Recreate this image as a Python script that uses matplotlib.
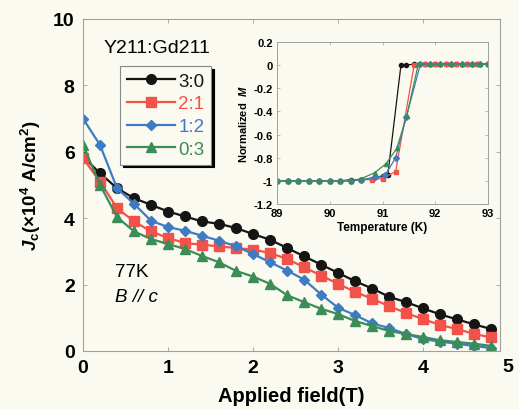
import numpy as np
import matplotlib
matplotlib.use("Agg")
import matplotlib.pyplot as plt

plt.rcParams['font.family'] = ['Liberation Sans', 'DejaVu Sans']
plt.rcParams['mathtext.fontset'] = 'custom'
plt.rcParams['mathtext.rm'] = 'Liberation Sans:bold'
plt.rcParams['mathtext.it'] = 'Liberation Sans:bold:italic'
plt.rcParams['mathtext.bf'] = 'Liberation Sans:bold'

# applied field (T)
field = [0.0, 0.2, 0.4, 0.6, 0.8, 1.0, 1.2, 1.4, 1.6, 1.8, 2.0, 2.2, 2.4,
         2.6, 2.8, 3.0, 3.2, 3.4, 3.6, 3.8, 4.0, 4.2, 4.4, 4.6, 4.8]

# Jc (x10^4 A/cm2)
jc_30 = [5.85, 5.35, 4.9, 4.6, 4.4, 4.2, 4.05, 3.9, 3.83, 3.7, 3.52, 3.35, 3.1,
         2.85, 2.6, 2.35, 2.1, 1.88, 1.63, 1.47, 1.28, 1.1, 0.95, 0.8, 0.66]
jc_21 = [5.8, 5.1, 4.3, 3.9, 3.6, 3.4, 3.25, 3.2, 3.15, 3.1, 3.05, 2.95, 2.77,
         2.52, 2.27, 2.02, 1.78, 1.57, 1.35, 1.14, 0.96, 0.78, 0.66, 0.51, 0.41]
jc_12 = [7.0, 6.2, 4.9, 4.43, 3.92, 3.73, 3.62, 3.47, 3.32, 3.15, 2.92, 2.67, 2.42,
         2.15, 1.7, 1.3, 1.08, 0.83, 0.69, 0.51, 0.36, 0.28, 0.22, 0.15, 0.09]
jc_03 = [6.2, 5.0, 4.03, 3.6, 3.37, 3.22, 3.07, 2.86, 2.67, 2.41, 2.24, 2.02, 1.68,
         1.47, 1.27, 1.11, 0.9, 0.75, 0.6, 0.51, 0.42, 0.32, 0.27, 0.22, 0.15]

# inset: normalized M vs temperature (K)
T_30 = [89.0, 89.2, 89.4, 89.6, 89.8, 90.0, 90.2, 90.4, 90.6, 90.8, 91.0, 91.1,
        91.35, 91.45, 91.6, 91.8, 92.0, 92.2, 92.4, 92.6, 92.8, 93.0]
M_30 = [-1, -1, -1, -1, -1, -1, -1, -0.99, -0.99, -0.98, -0.96, -0.95,
        0.0, 0.0, 0.01, 0.01, 0.01, 0.01, 0.01, 0.01, 0.01, 0.01]
T_21 = [89.0, 89.2, 89.4, 89.6, 89.8, 90.0, 90.2, 90.4, 90.6, 90.8, 91.0, 91.25,
        91.6, 91.8, 92.0, 92.2, 92.4, 92.6, 92.8, 93.0]
M_21 = [-1, -1, -1, -1, -1, -1, -1, -1, -0.99, -0.99, -0.98, -0.92,
        0.0, 0.01, 0.01, 0.01, 0.01, 0.01, 0.01, 0.01]
T_12 = [89.0, 89.2, 89.4, 89.6, 89.8, 90.0, 90.2, 90.4, 90.6, 90.85, 91.05, 91.25,
        91.45, 91.72, 91.9, 92.1, 92.3, 92.5, 92.7, 92.85, 93.0]
M_12 = [-1, -1, -1, -1, -1, -1, -1, -1, -0.99, -0.97, -0.95, -0.8,
        -0.45, 0.01, 0.01, 0.01, 0.01, 0.01, 0.01, 0.01, 0.01]
T_03 = [89.0, 89.2, 89.4, 89.6, 89.8, 90.0, 90.2, 90.4, 90.6, 90.85, 91.07, 91.27,
        91.46, 91.68, 91.9, 92.1, 92.3, 92.5, 92.7, 92.85, 93.0]
M_03 = [-1, -1, -1, -1, -1, -1, -1, -1, -0.98, -0.93, -0.85, -0.72,
        -0.44, 0.01, 0.01, 0.01, 0.01, 0.01, 0.01, 0.01, 0.01]

labels = ['3:0', '2:1', '1:2', '0:3']
colors = ['#151515', '#f2524a', '#3d7cc2', '#3b8c57']
markers = ['o', 's', 'D', '^']
msizes = [7, 7, 5, 6.5]

bg = '#fafaf1'
spine_c = '#a0a0a0'

fig = plt.figure(figsize=(5.19, 4.10), dpi=100, facecolor=bg)
ax = fig.add_axes([0.16, 0.1415, 0.803, 0.81], facecolor=bg)

jcs = [jc_30, jc_21, jc_12, jc_03]
for jc, lab, c, m, ms in zip(jcs, labels, colors, markers, msizes):
    ax.plot(field, jc, color=c, marker=m, markersize=ms, lw=1.6, label=lab)

ax.set_xlim(0, 4.9)
ax.set_ylim(0, 10)
ax.set_xticks([0, 1, 2, 3, 4])
ax.set_yticks([0, 2, 4, 6, 8, 10])
ax.tick_params(direction='in', length=3, width=0.6, color=spine_c,
               top=True, right=True, labelsize=14, pad=6)
for t in ax.get_xticklabels() + ax.get_yticklabels():
    t.set_fontweight('bold')
# the "5" label sits just past the right edge of the frame
ax.text(5.0, -0.022, '5', transform=ax.get_xaxis_transform(), ha='center',
        va='top', fontsize=14, fontweight='bold')
for s in ax.spines.values():
    s.set_color(spine_c)
    s.set_linewidth(0.8)

ax.set_xlabel('Applied field(T)', fontsize=14.5, fontweight='bold', labelpad=7)
ax.set_ylabel(r'$J_{\mathrm{c}}$(×10$^4$ A/cm$^2$)', fontsize=13.5, fontweight='bold')
ax.yaxis.set_label_coords(-0.095, 0.5)

ax.text(0.05, 0.915, 'Y211:Gd211', transform=ax.transAxes, fontsize=14,
        va='center', ha='left')
ax.text(0.077, 0.24, '77K', transform=ax.transAxes, fontsize=13.5, va='center')
ax.text(0.077, 0.163, 'B // c', transform=ax.transAxes, fontsize=13.5,
        va='center', fontstyle='italic')

leg = ax.legend(loc='upper left', bbox_to_anchor=(0.089, 0.858), fontsize=13.5,
                handlelength=2.6, handletextpad=0.15, labelspacing=0.3,
                borderpad=0.35, borderaxespad=0, fancybox=False, framealpha=1,
                shadow={'color': 'black', 'alpha': 1})
leg.get_frame().set_edgecolor('#888888')
leg.get_frame().set_linewidth(0.8)
leg.get_frame().set_facecolor(bg)
for txt, c in zip(leg.get_texts(), colors):
    txt.set_color(c)

# inset
axi = fig.add_axes([0.534, 0.5, 0.406, 0.395], facecolor=bg)
Ts = [T_30, T_21, T_12, T_03]
Ms = [M_30, M_21, M_12, M_03]
for T, M, c, m in zip(Ts, Ms, colors, markers):
    axi.plot(T, M, color=c, marker=m, markersize=3, lw=0.9)
axi.set_xlim(89, 93)
axi.set_ylim(-1.2, 0.2)
axi.set_xticks([89, 90, 91, 92, 93])
yt = [0.2, 0, -0.2, -0.4, -0.6, -0.8, -1, -1.2]
axi.set_yticks(yt)
axi.set_yticklabels(['0.2', '0', '-0.2', '-0.4', '-0.6', '-0.8', '-1', '-1.2'])
axi.tick_params(direction='in', length=2, width=0.5, color=spine_c,
                top=True, right=True, labelsize=8, pad=3)
for t in axi.get_xticklabels() + axi.get_yticklabels():
    t.set_fontweight('bold')
for s in axi.spines.values():
    s.set_color(spine_c)
    s.set_linewidth(0.7)
axi.set_xlabel('Temperature (K)', fontsize=8.5, fontweight='bold', labelpad=2)
axi.set_ylabel(r'Normalized  $M$', fontsize=8, fontweight='bold', labelpad=3)

fig.savefig('out.png', dpi=100, facecolor=bg)
